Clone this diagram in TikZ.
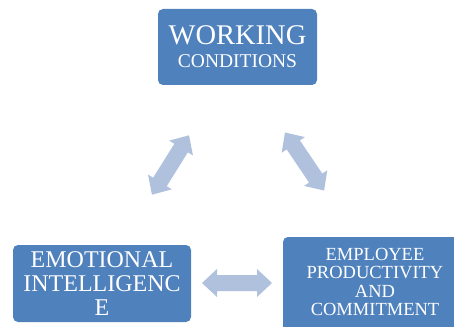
\documentclass[tikz,border=0pt]{standalone}
\usepackage{fontspec}
\setmainfont{Liberation Serif}
\definecolor{boxblue}{HTML}{4F81BD}
\definecolor{arrowblue}{HTML}{B0C1DE}
\tikzset{
  box/.style={fill=boxblue, draw=none, rounded corners=5pt, inner sep=0pt,
    text=white, align=center},
  boxtext/.style={text=white, align=center, inner sep=0pt},
  dblarrow/.pic={
    \fill[arrowblue] (-35,0) -- (-20,-14) -- (-20,-8) -- (20,-8) -- (20,-14)
      -- (35,0) -- (20,14) -- (20,8) -- (-20,8) -- (-20,14) -- cycle;
  }
}
\begin{document}
\begin{tikzpicture}[x=1pt,y=-1pt]
\useasboundingbox (0,0) rectangle (454,326);
\clip (0,0) rectangle (454,326);
\node[box, minimum width=159pt, minimum height=76pt,
  font=\fontsize{19.5}{23.3}\selectfont] (wc) at (237.5,47)
  {{\fontsize{28.5}{28.5}\selectfont WORKING}\\CONDITIONS};
\node[box, minimum width=178pt, minimum height=77pt,
  font=\fontsize{24}{24.2}\selectfont] (ei) at (102,283.5)
  {EMOTIONAL\\INTELLIGENC\\E};
\node[box, minimum width=184pt, minimum height=100pt,
  label={[boxtext, font=\fontsize{18.5}{18.5}\selectfont, yshift=4.8pt]center:EMPLOYEE\\PRODUCTIVITY\\AND\\COMMITMENT}]
  (ep) at (375,287) {};
\pic[rotate=58] at (170.5,165) {dblarrow};
\pic[rotate=-56] at (304.5,161.5) {dblarrow};
\pic at (237,283) {dblarrow};
\end{tikzpicture}
\end{document}
